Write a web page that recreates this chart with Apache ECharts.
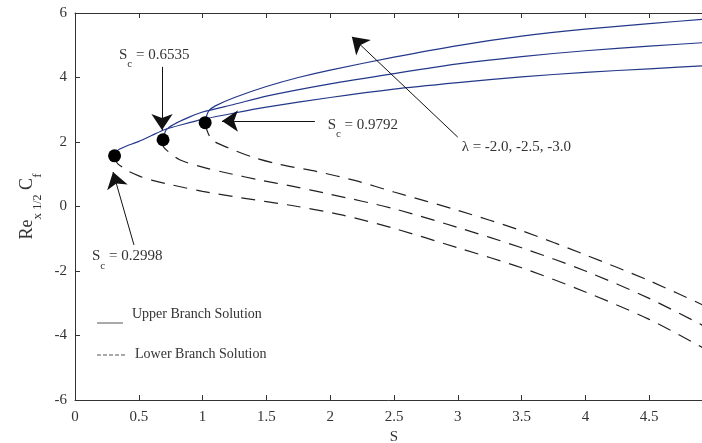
<!DOCTYPE html>
<html>
<head>
    <meta charset="UTF-8">
    <script type="text/javascript" src="https://cdn.jsdelivr.net/npm/echarts@6/dist/echarts.min.js"></script>
    <style>
        html, body { margin: 0; background: #fff; overflow: hidden; }
    </style>
</head>
<body>
    <div style="height: 443px;width: 702px" id="myDiv"></div>
    <script type="text/javascript">
        // critical points (turning points of the solutions)
        var critS = [0.31, 0.69, 1.02];
        var critY = [1.57, 2.07, 2.6];
        var critText = ['0.2998', '0.6535', '0.9792'];

        // upper branch, lambda = -2.0, -2.5, -3.0
        var upper1 = [[0.31,1.57],[0.32,1.68],[0.35,1.78],[0.4,1.87],[0.5,2.02],[0.6,2.2],[0.7,2.38],[0.85,2.55],[1.0,2.7],[1.25,2.9],[1.5,3.08],[2.0,3.38],[2.5,3.64],[3.0,3.84],[3.5,4.02],[4.0,4.16],[4.5,4.27],[5.0,4.38]];
        var upper2 = [[0.69,2.07],[0.7,2.25],[0.72,2.4],[0.8,2.6],[0.9,2.78],[1.0,2.93],[1.25,3.17],[1.5,3.42],[2.0,3.8],[2.5,4.12],[3.0,4.42],[3.5,4.65],[4.0,4.83],[4.5,4.97],[5.0,5.1]];
        var upper3 = [[1.02,2.6],[1.03,2.8],[1.05,2.97],[1.1,3.12],[1.25,3.38],[1.5,3.72],[1.75,4.0],[2.0,4.23],[2.5,4.63],[3.0,4.99],[3.5,5.28],[4.0,5.5],[4.5,5.67],[5.0,5.83]];

        // lower branch
        var lower1 = [[0.31,1.57],[0.33,1.35],[0.37,1.22],[0.4,1.13],[0.5,0.95],[0.6,0.82],[0.77,0.66],[1.0,0.47],[1.3,0.27],[1.7,0.03],[2.1,-0.27],[2.5,-0.68],[3.0,-1.28],[3.5,-1.9],[4.0,-2.65],[4.5,-3.5],[5.0,-4.55]];
        var lower2 = [[0.69,2.07],[0.69,1.9],[0.72,1.74],[0.82,1.45],[1.0,1.22],[1.2,1.03],[1.45,0.82],[1.7,0.63],[2.0,0.38],[2.5,-0.07],[3.0,-0.65],[3.5,-1.28],[4.0,-2.0],[4.5,-2.85],[5.0,-3.85]];
        var lower3 = [[1.02,2.6],[1.04,2.3],[1.08,2.05],[1.2,1.82],[1.4,1.52],[1.6,1.31],[1.9,1.08],[2.2,0.8],[2.5,0.45],[3.0,-0.12],[3.5,-0.75],[4.0,-1.5],[4.5,-2.3],[5.0,-3.2]];

        // annotation arrows: [fromX, fromY, toX, toY]
        var arrows = [[0.462,-1.19,0.298,1.07],[0.682,4.33,0.682,2.37],[1.88,2.65,1.152,2.65],[3.0,2.15,2.17,5.26]];
        // annotation text anchors (left, middle)
        var noteAt = [[0.133,-1.54],[0.345,4.7],[1.98,2.53]];
        var lambdaAt = [3.03,1.84];
        var lambdaText = 'λ = -2.0, -2.5, -3.0';

        var serif = 'Liberation Serif, Times New Roman, serif';
        var blue = '#23388a';
        var chart = echarts.init(document.getElementById('myDiv'));

        function upperSeries(d) {
            return {type: 'line', data: d, showSymbol: false, smooth: 0.25, z: 3,
                lineStyle: {color: blue, width: 1.2}};
        }
        function lowerSeries(d) {
            return {type: 'line', data: d, showSymbol: false, smooth: 0.3, z: 3,
                lineStyle: {color: '#222', width: 1.2, type: [14, 9]}};
        }

        var axisCommon = {
            type: 'value', splitLine: {show: false},
            axisLine: {show: true, onZero: false, lineStyle: {color: '#333', width: 1}},
            axisTick: {show: true, inside: true, length: 5, lineStyle: {color: '#333'}}
        };

        var option = {
            animation: false,
            grid: {left: 75, right: -11, top: 13, bottom: 43, outerBoundsMode: 'none', containLabel: false},
            xAxis: [
                Object.assign({}, axisCommon, {
                    min: 0, max: 5, interval: 0.5, position: 'bottom',
                    name: 'S', nameLocation: 'middle', nameGap: 30,
                    nameTextStyle: {fontFamily: serif, fontSize: 15, color: '#333'},
                    axisLabel: {fontFamily: serif, fontSize: 15, color: '#333', margin: 10}
                }),
                Object.assign({}, axisCommon, {
                    min: 0, max: 5, interval: 0.5, position: 'top',
                    axisLabel: {show: false}
                })
            ],
            yAxis: Object.assign({}, axisCommon, {
                min: -6, max: 6, interval: 2,
                name: '{m|Re}{s|x }{h|1/2}{m| C}{s|f}',
                nameLocation: 'middle', nameGap: 29,
                nameTextStyle: {
                    fontFamily: serif, color: '#333',
                    rich: {
                        m: {fontFamily: serif, fontSize: 18, color: '#333'},
                        s: {fontFamily: serif, fontSize: 13, color: '#333', verticalAlign: 'bottom', lineHeight: 32},
                        h: {fontFamily: serif, fontSize: 12, color: '#333', verticalAlign: 'bottom', lineHeight: 30}
                    }
                },
                axisLabel: {fontFamily: serif, fontSize: 15, color: '#333', margin: 8}
            }),
            series: [
                upperSeries(upper1), upperSeries(upper2), upperSeries(upper3),
                lowerSeries(lower1), lowerSeries(lower2), lowerSeries(lower3),
                {
                    type: 'scatter', z: 5,
                    data: critS.map(function (s, i) { return [s, critY[i]]; }),
                    symbol: 'circle', symbolSize: 13,
                    itemStyle: {color: '#000', opacity: 1},
                    markLine: {
                        silent: true, animation: false,
                        symbol: ['none', 'arrow'], symbolSize: 16,
                        lineStyle: {color: '#111', width: 1, type: 'solid'},
                        label: {show: false},
                        data: arrows.map(function (a) {
                            return [{coord: [a[0], a[1]]}, {coord: [a[2], a[3]]}];
                        })
                    }
                }
            ]
        };
        chart.setOption(option);

        // text notes placed through the axes
        var rich = {
            m: {fontFamily: serif, fontSize: 15, fill: '#333'},
            s: {fontFamily: serif, fontSize: 11, fill: '#333', verticalAlign: 'bottom', lineHeight: 30}
        };
        var graphics = [];
        for (var i = 0; i < noteAt.length; i++) {
            var p = chart.convertToPixel({gridIndex: 0}, noteAt[i]);
            graphics.push({
                type: 'text', x: p[0], y: p[1], z: 10,
                style: {text: '{m|S}{s|c}{m| = ' + critText[i] + '}', rich: rich,
                    align: 'left', verticalAlign: 'middle'}
            });
        }
        var lp = chart.convertToPixel({gridIndex: 0}, lambdaAt);
        graphics.push({
            type: 'text', x: lp[0], y: lp[1], z: 10,
            style: {text: lambdaText, font: '15px ' + serif, fill: '#333', align: 'left', verticalAlign: 'middle'}
        });
        // legend drawn as plain strokes + text
        graphics.push(
            {type: 'line', shape: {x1: 97, y1: 323, x2: 123, y2: 323}, style: {stroke: '#555', lineWidth: 1}},
            {type: 'text', x: 132, y: 314, style: {text: 'Upper Branch Solution', font: '14px ' + serif, fill: '#333', verticalAlign: 'middle'}},
            {type: 'line', shape: {x1: 97, y1: 355, x2: 125, y2: 355}, style: {stroke: '#555', lineWidth: 1, lineDash: [4, 2]}},
            {type: 'text', x: 135, y: 354, style: {text: 'Lower Branch Solution', font: '14px ' + serif, fill: '#333', verticalAlign: 'middle'}}
        );
        chart.setOption({graphic: graphics});
    </script>
</body>
</html>
